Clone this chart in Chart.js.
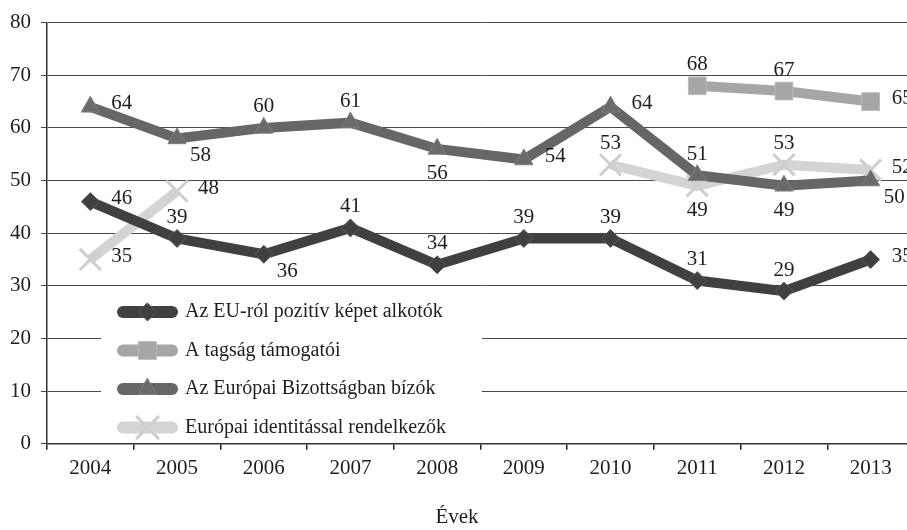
<!DOCTYPE html>
<html>
<head>
<meta charset="utf-8">
<script src="https://cdn.jsdelivr.net/npm/chart.js@4/dist/chart.umd.min.js"></script>
<style>
  html, body { margin: 0; padding: 0; background: #fff; overflow: hidden; }
  #wrap { width: 916px; height: 530px; }
</style>
</head>
<body>
<div id="wrap"><canvas id="grafikon" width="916" height="530"></canvas></div>
<script>
// adatok
const evek = ['2004', '2005', '2006', '2007', '2008', '2009', '2010', '2011', '2012', '2013'];
const pozitivKep = [46, 39, 36, 41, 34, 39, 39, 31, 29, 35];
const tagsagTamogatoi = [null, null, null, null, null, null, null, 68, 67, 65];
const bizottsagBizok = [64, 58, 60, 61, 56, 54, 64, 51, 49, 50];
const europaiIdentitas = [35, 48, null, null, null, null, 53, 49, 53, 52];
const yMin = 0, yMax = 80, yLepes = 10;

// cimkek helye: a = felette, b = alatta, r = jobbra, br = jobbra lent
const poz1 = ['r', 'a', 'br', 'a', 'a', 'a', 'a', 'a', 'a', 'r'];
const poz2 = [null, null, null, null, null, null, null, 'a', 'a', 'r'];
const poz3 = ['r', 'br', 'a', 'a', 'b', 'r', 'r', 'a', 'b', 'br'];
const poz4 = ['r', 'r', null, null, null, null, 'a', 'b', 'a', 'r'];

const betu = 'Liberation Serif, Times New Roman, serif';
const szovegSzin = '#1e1e1e';

function jelolo(ctx, stilus, x, y, r, kitoltes, vonal, vastag) {
  ctx.beginPath();
  if (stilus === 'rectRot') {
    ctx.moveTo(x, y - r); ctx.lineTo(x + r, y); ctx.lineTo(x, y + r); ctx.lineTo(x - r, y); ctx.closePath();
  } else if (stilus === 'rect') {
    const s = r * Math.SQRT1_2;
    ctx.rect(x - s, y - s, 2 * s, 2 * s);
  } else if (stilus === 'triangle') {
    ctx.moveTo(x, y - r);
    ctx.lineTo(x + r * Math.sin(Math.PI / 3), y + r / 2);
    ctx.lineTo(x - r * Math.sin(Math.PI / 3), y + r / 2);
    ctx.closePath();
  } else if (stilus === 'crossRot') {
    const s = r * Math.SQRT1_2;
    ctx.moveTo(x - s, y - s); ctx.lineTo(x + s, y + s);
    ctx.moveTo(x + s, y - s); ctx.lineTo(x - s, y + s);
    ctx.strokeStyle = vonal; ctx.lineWidth = vastag; ctx.stroke();
    return;
  }
  ctx.fillStyle = kitoltes; ctx.fill();
  ctx.strokeStyle = vonal; ctx.lineWidth = vastag; ctx.stroke();
}

const ertekCimkek = {
  id: 'ertekCimkek',
  afterDatasetsDraw(chart) {
    const ctx = chart.ctx;
    ctx.save();
    ctx.font = '21px ' + betu;
    ctx.fillStyle = szovegSzin;
    ctx.textBaseline = 'middle';
    chart.data.datasets.forEach((ds, di) => {
      const meta = chart.getDatasetMeta(di);
      meta.data.forEach((pt, i) => {
        const v = ds.data[i];
        if (v == null) return;
        const p = ds.cimkePoz[i];
        let x = pt.x, y = pt.y;
        if (p === 'a') { ctx.textAlign = 'center'; y -= 21; }
        else if (p === 'b') { ctx.textAlign = 'center'; y += 25; }
        else if (p === 'r') { ctx.textAlign = 'left'; x += 21; y -= 3; }
        else { ctx.textAlign = 'left'; x += 13; y += 17; }
        ctx.fillText(String(v), x, y);
      });
    });
    ctx.restore();
  }
};

const jelmagyarazat = {
  id: 'jelmagyarazat',
  afterDatasetsDraw(chart) {
    const ctx = chart.ctx;
    ctx.save();
    ctx.fillStyle = '#fff';
    ctx.fillRect(101, 292, 381, 148);
    ctx.font = '20px ' + betu;
    ctx.textAlign = 'left';
    ctx.textBaseline = 'middle';
    chart.data.datasets.forEach((ds, i) => {
      const y = 312 + i * 38.5;
      ctx.beginPath();
      ctx.moveTo(123, y); ctx.lineTo(172, y);
      ctx.lineCap = 'round';
      ctx.lineWidth = 12;
      ctx.strokeStyle = ds.borderColor;
      ctx.stroke();
      jelolo(ctx, ds.pointStyle, 147.5, y, ds.pointRadius, ds.pointBackgroundColor, ds.pointBorderColor, ds.pointBorderWidth);
      ctx.fillStyle = szovegSzin;
      ctx.fillText(ds.label, 185, y);
    });
    ctx.restore();
  }
};

new Chart(document.getElementById('grafikon'), {
  type: 'line',
  data: {
    labels: evek,
    datasets: [
      {
        label: 'Az EU-ról pozitív képet alkotók',
        data: pozitivKep, cimkePoz: poz1,
        borderColor: '#404040', borderWidth: 10,
        pointStyle: 'rectRot', pointRadius: 9,
        pointBackgroundColor: '#404040', pointBorderColor: '#5c5c5c', pointBorderWidth: 1
      },
      {
        label: 'A tagság támogatói',
        data: tagsagTamogatoi, cimkePoz: poz2,
        borderColor: '#a6a6a6', borderWidth: 10,
        pointStyle: 'rect', pointRadius: 12.5,
        pointBackgroundColor: '#a6a6a6', pointBorderColor: '#b9b9b9', pointBorderWidth: 1
      },
      {
        label: 'Az Európai Bizottságban bízók',
        data: bizottsagBizok, cimkePoz: poz3,
        borderColor: '#666666', borderWidth: 10,
        pointStyle: 'triangle', pointRadius: 10.5,
        pointBackgroundColor: '#6a6a6a', pointBorderColor: '#7e7e7e', pointBorderWidth: 1
      },
      {
        label: 'Európai identitással rendelkezők',
        data: europaiIdentitas, cimkePoz: poz4,
        borderColor: '#d4d4d4', borderWidth: 10,
        pointStyle: 'crossRot', pointRadius: 15,
        pointBackgroundColor: '#cfcfcf', pointBorderColor: '#cfcfcf', pointBorderWidth: 3
      }
    ]
  },
  options: {
    responsive: false,
    animation: false,
    devicePixelRatio: 1,
    elements: { line: { tension: 0, borderJoinStyle: 'miter' } },
    layout: { autoPadding: false, padding: { left: 0, right: 2, top: 21, bottom: 0 } },
    plugins: {
      legend: { display: false },
      tooltip: { enabled: false },
      title: {
        display: true, text: 'Évek', position: 'bottom',
        color: szovegSzin, font: { family: betu, size: 21, weight: 'normal' },
        padding: { top: 0, bottom: 0 }
      }
    },
    scales: {
      x: {
        offset: true,
        grid: { offset: true, drawOnChartArea: false, drawTicks: true, tickLength: 6, color: '#222', lineWidth: 1.5 },
        border: { color: '#333', width: 1.5 },
        ticks: { color: szovegSzin, font: { family: betu, size: 21 }, padding: 6, maxRotation: 0, autoSkip: false },
        afterFit(s) { s.height = 61; s.paddingLeft = 0; s.paddingRight = 0; }
      },
      y: {
        min: yMin, max: yMax,
        ticks: { stepSize: yLepes, color: szovegSzin, font: { family: betu, size: 21 }, padding: 10 },
        grid: { color: '#484848', lineWidth: 1, tickLength: 6 },
        border: { color: '#333', width: 1.5 },
        afterFit(s) { s.width = 47; }
      }
    }
  },
  plugins: [ertekCimkek, jelmagyarazat]
});
</script>
</body>
</html>
